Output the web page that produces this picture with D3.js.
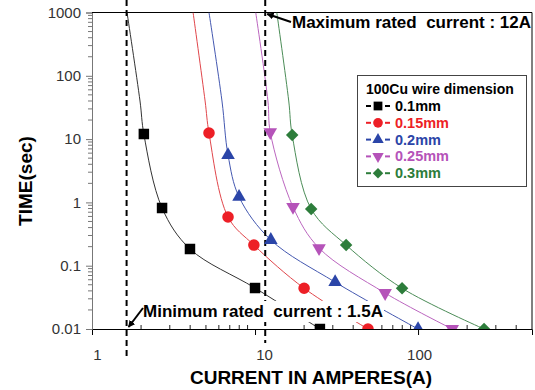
<!DOCTYPE html>
<html>
<head>
<meta charset="utf-8">
<script src="https://cdn.jsdelivr.net/npm/d3@7"></script>
<style>
  body { margin: 0; background: #fff; }
  text { font-family: "Liberation Sans", Arial, sans-serif; }
</style>
</head>
<body>
<div id="chart"></div>
<script>
var width = 535,
  height = 390;

// wire sizes, one series each
var sizes = ["0.1mm", "0.15mm", "0.2mm", "0.25mm", "0.3mm"];
var colors = ["#000000", "#ed1f26", "#2b45a8", "#b553b9", "#2d7d3b"];
var lineColors = ["#333333", "#e0464b", "#4458b0", "#bb66bf", "#4b8c57"];
var shapes = ["square", "circle", "triangle", "triangleDown", "diamond"];

// measured points (current A, time s)
var currents = [
  [2.08, 2.69, 3.99, 10.0, 25.0],
  [5.22, 6.83, 9.84, 20.0, 49.3],
  [6.83, 7.98, 12.5, 31.0, 100],
  [12.4, 17.1, 24.7, 62.8, 162],
  [16.9, 22.1, 36.2, 79.8, 254]
];
var times = [
  [12, 0.815, 0.184, 0.0444, 0.01],
  [12.5, 0.588, 0.212, 0.044, 0.01],
  [5.61, 1.22, 0.255, 0.055, 0.01],
  [12.9, 0.846, 0.19, 0.037, 0.01],
  [11.6, 0.787, 0.212, 0.044, 0.01]
];

// where the fitted curves cross 1000 s and 40 s
var topTime = 1000, midTime = 40;
var topCurrent = [1.64, 4.17, 5.22, 10.1, 13.6];
var midCurrent = [1.97, 4.94, 6.27, 12.0, 16.1];

// rated current lines (drawn where they sit in the picture)
var minRated = 1.63, maxRated = 11.55;

var xTicks = [1, 10, 100];
var xLabelShift = [5, 9, 1];   // labels sit a little right of their ticks
var yTicks = [0.01, 0.1, 1, 10, 100, 1000];

var pLeft = 92, pRight = 532, pTop = 12.5, pBottom = 329;

var x = d3.scaleLog().domain([1, 500]).range([pLeft, pRight]);
var y = d3.scaleLog().domain([0.01, 1000]).range([pBottom, pTop]);

var svg = d3.select("#chart").append("svg")
  .attr("width", width)
  .attr("height", height);

var defs = svg.append("defs");
defs.append("clipPath")
  .attr("id", "plot")
  .append("rect")
  .attr("x", pLeft).attr("y", pTop)
  .attr("width", pRight - pLeft).attr("height", pBottom - pTop);

// minor ticks
var xMinor = [];
[1, 10, 100].forEach(function(d) {
  for (var k = 2; k <= 9; k++) if (d * k < 500) xMinor.push(d * k);
});
var yMinor = [];
[0.01, 0.1, 1, 10, 100].forEach(function(d) {
  for (var k = 2; k <= 9; k++) yMinor.push(d * k);
});

svg.selectAll(".xminor")
  .data(xMinor)
  .enter().append("line")
  .attr("x1", function(d) { return x(d); })
  .attr("x2", function(d) { return x(d); })
  .attr("y1", pBottom).attr("y2", pBottom - 4)
  .attr("stroke", "#222");

svg.selectAll(".yminor")
  .data(yMinor)
  .enter().append("line")
  .attr("x1", pLeft).attr("x2", pLeft - 4)
  .attr("y1", function(d) { return y(d); })
  .attr("y2", function(d) { return y(d); })
  .attr("stroke", "#777");

// axes
var xAxis = svg.append("g")
  .attr("transform", "translate(0," + pBottom + ")")
  .call(d3.axisBottom(x).tickValues(xTicks).tickFormat(d3.format("d")).tickSize(6).tickPadding(14));
xAxis.select(".domain").attr("stroke", "#000");
xAxis.selectAll("text").attr("font-size", 15).attr("fill", "#333")
  .attr("font-family", "Liberation Sans, Arial, sans-serif")
  .attr("dx", function(d, i) { return xLabelShift[i]; });

var yAxis = svg.append("g")
  .attr("transform", "translate(" + pLeft + ",0)")
  .call(d3.axisLeft(y).tickValues(yTicks).tickFormat(function(d) { return String(d); }).tickSize(6).tickPadding(5));
yAxis.select(".domain").attr("stroke", "#777");
yAxis.selectAll(".tick line").attr("stroke", "#777");
yAxis.selectAll("text").attr("font-size", 15).attr("fill", "#333")
  .attr("font-family", "Liberation Sans, Arial, sans-serif");

// top and right border
svg.append("path")
  .attr("d", "M" + pLeft + "," + pTop + "H" + pRight + "V" + pBottom)
  .attr("fill", "none")
  .attr("stroke", "#000");

// fitted curves
var line = d3.line()
  .x(function(d) { return x(d[0]); })
  .y(function(d) { return y(d[1]); })
  .curve(d3.curveCatmullRom.alpha(0.5));

var curves = svg.append("g").attr("clip-path", "url(#plot)");

sizes.forEach(function(s, i) {
  var pts = [[topCurrent[i], topTime], [midCurrent[i], midTime]];
  currents[i].forEach(function(c, j) { pts.push([c, times[i][j]]); });
  curves.append("path")
    .datum(pts)
    .attr("d", line)
    .attr("fill", "none")
    .attr("stroke", lineColors[i])
    .attr("stroke-width", 1);
});

function symbolPath(shape, size) {
  var t = {
    square: d3.symbolSquare,
    circle: d3.symbolCircle,
    triangle: d3.symbolTriangle,
    triangleDown: d3.symbolTriangle,
    diamond: d3.symbolSquare
  }[shape];
  return d3.symbol().type(t).size(size)();
}
function symbolRotate(shape) {
  if (shape === "triangleDown") return " rotate(180)";
  if (shape === "diamond") return " rotate(45)";
  return "";
}
var markerSize = { square: 110, circle: 105, triangle: 80, triangleDown: 80, diamond: 78 };

// rated current dashed lines
svg.append("line")
  .attr("x1", x(minRated)).attr("x2", x(minRated))
  .attr("y1", 0).attr("y2", 357)
  .attr("stroke", "#000").attr("stroke-width", 2)
  .attr("stroke-dasharray", "6,4");
svg.append("line")
  .attr("x1", x(maxRated)).attr("x2", x(maxRated))
  .attr("y1", 0).attr("y2", 343)
  .attr("stroke", "#000").attr("stroke-width", 2)
  .attr("stroke-dasharray", "6,4");

// annotation backgrounds hide curves beneath the text
svg.append("rect").attr("x", 141).attr("y", 301).attr("width", 243).attr("height", 21).attr("fill", "#fff");
svg.append("rect").attr("x", 290).attr("y", 14).attr("width", 240).attr("height", 18).attr("fill", "#fff");

// markers
var marks = svg.append("g").attr("clip-path", "url(#plot)");
sizes.forEach(function(s, i) {
  marks.selectAll(".m" + i)
    .data(currents[i].map(function(c, j) { return [c, times[i][j]]; }))
    .enter().append("path")
    .attr("class", "m" + i)
    .attr("d", symbolPath(shapes[i], markerSize[shapes[i]]))
    .attr("transform", function(d) {
      return "translate(" + x(d[0]) + "," + y(d[1]) + ")" + symbolRotate(shapes[i]);
    })
    .attr("fill", colors[i]);
});

// annotations
svg.append("text")
  .attr("x", 292).attr("y", 28)
  .attr("font-size", 17).attr("font-weight", "bold")
  .style("white-space", "pre")
  .text("Maximum rated  current : 12A");
svg.append("text")
  .attr("x", 143).attr("y", 317)
  .attr("font-size", 17).attr("font-weight", "bold")
  .style("white-space", "pre")
  .text("Minimum rated  current : 1.5A");

defs.append("marker")
  .attr("id", "head")
  .attr("viewBox", "0 0 10 10")
  .attr("refX", 9).attr("refY", 5)
  .attr("markerWidth", 7).attr("markerHeight", 7)
  .attr("markerUnits", "userSpaceOnUse")
  .attr("orient", "auto")
  .append("path")
  .attr("d", "M0,0L10,5L0,10z")
  .attr("fill", "#000");

svg.append("line")
  .attr("x1", 291).attr("y1", 22).attr("x2", x(maxRated) + 2).attr("y2", 14)
  .attr("stroke", "#000").attr("stroke-width", 2)
  .attr("marker-end", "url(#head)");
svg.append("line")
  .attr("x1", 143).attr("y1", 308).attr("x2", x(minRated) + 2).attr("y2", 327)
  .attr("stroke", "#000").attr("stroke-width", 2)
  .attr("marker-end", "url(#head)");

// axis titles
svg.append("text")
  .attr("x", 311).attr("y", 384)
  .attr("text-anchor", "middle")
  .attr("font-size", 19).attr("font-weight", "bold")
  .text("CURRENT IN AMPERES(A)");
svg.append("text")
  .attr("transform", "translate(32,181) rotate(-90)")
  .attr("text-anchor", "middle")
  .attr("font-size", 19).attr("font-weight", "bold")
  .text("TIME(sec)");

// legend
var legend = svg.append("g");
legend.append("rect")
  .attr("x", 357.5).attr("y", 75.5)
  .attr("width", 169).attr("height", 111)
  .attr("fill", "#fff")
  .attr("stroke", "#444");
legend.append("text")
  .attr("x", 366).attr("y", 94)
  .attr("font-size", 14).attr("font-weight", "bold")
  .text("100Cu wire dimension");

var rows = legend.selectAll(".row")
  .data(sizes)
  .enter().append("g")
  .attr("transform", function(d, i) { return "translate(0," + (106 + i * 16.8) + ")"; });
rows.append("line")
  .attr("x1", 366).attr("x2", 371)
  .attr("stroke", function(d, i) { return colors[i]; }).attr("stroke-width", 2);
rows.append("line")
  .attr("x1", 385).attr("x2", 390)
  .attr("stroke", function(d, i) { return colors[i]; }).attr("stroke-width", 2);
rows.append("path")
  .attr("d", function(d, i) { return symbolPath(shapes[i], markerSize[shapes[i]] * 0.7); })
  .attr("transform", function(d, i) { return "translate(378,0)" + symbolRotate(shapes[i]); })
  .attr("fill", function(d, i) { return colors[i]; });
rows.append("text")
  .attr("x", 395).attr("y", 5)
  .attr("font-size", 14.5).attr("font-weight", "bold")
  .attr("fill", function(d, i) { return colors[i]; })
  .text(function(d) { return d; });
</script>
</body>
</html>
